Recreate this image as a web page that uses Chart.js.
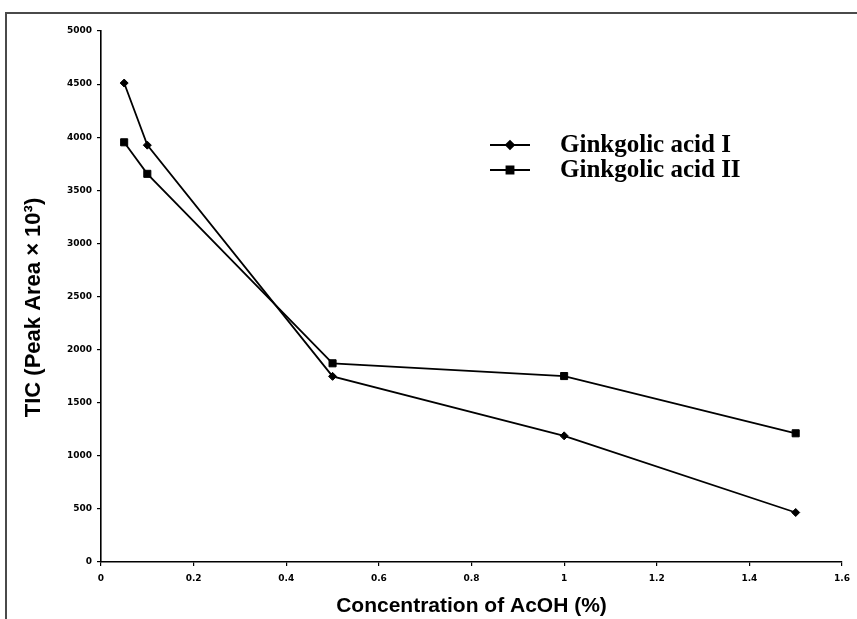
<!DOCTYPE html>
<html>
<head>
<meta charset="utf-8">
<script src="https://cdn.jsdelivr.net/npm/chart.js@4/dist/chart.umd.min.js"></script>
<style>
  html, body { margin: 0; padding: 0; background: #fff; }
  #wrap { width: 857px; height: 619px; position: relative; }
</style>
</head>
<body>
<div id="wrap"><canvas id="c" width="857" height="619"></canvas></div>
<script>
// ---- data ----
const concentrations = [0.05, 0.1, 0.5, 1.0, 1.5];
const ginkgolicAcidI = [4510, 3925, 1748, 1188, 466];
const ginkgolicAcidII = [3952, 3655, 1871, 1751, 1212];
const seriesNames = ['Ginkgolic acid I', 'Ginkgolic acid II'];
const xTickLabels = ['0', '0.2', '0.4', '0.6', '0.8', '1', '1.2', '1.4', '1.6'];
const yTickLabels = ['0', '500', '1000', '1500', '2000', '2500', '3000', '3500', '4000', '4500', '5000'];
const xAxisTitle = 'Concentration of AcOH (%)';
const yAxisTitle = 'TIC (Peak Area \u00d7 10\u00b3)';

const toPoints = (xs, ys) => xs.map((x, i) => ({ x: x, y: ys[i] }));

const framePlugin = {
  id: 'frame',
  beforeDraw(chart) {
    const ctx = chart.ctx;
    ctx.save();
    ctx.fillStyle = '#fff';
    ctx.fillRect(0, 0, chart.width, chart.height);
    ctx.strokeStyle = '#4a4a4a';
    ctx.lineWidth = 2;
    ctx.beginPath();
    ctx.moveTo(chart.width, 13);
    ctx.lineTo(6, 13);
    ctx.lineTo(6, chart.height);
    ctx.stroke();
    ctx.restore();
  }
};

const yTitlePlugin = {
  id: 'yTitle',
  afterDraw(chart) {
    const ctx = chart.ctx;
    const a = chart.chartArea;
    ctx.save();
    ctx.translate(34, (a.top + a.bottom) / 2 + 11);
    ctx.rotate(-Math.PI / 2);
    ctx.font = 'bold 22px "Liberation Sans", Arial, sans-serif';
    ctx.fillStyle = '#000';
    ctx.textAlign = 'center';
    ctx.textBaseline = 'middle';
    ctx.fillText(yAxisTitle, 0, 0);
    ctx.restore();
  }
};

const legendPlugin = {
  id: 'customLegend',
  afterDraw(chart) {
    const ctx = chart.ctx;
    const a = chart.chartArea;
    const lineX0 = a.left + 389, lineX1 = a.left + 429, textX = a.left + 459;
    chart.data.datasets.forEach((ds, i) => {
      const y = a.top + 114 + i * 25;
      ctx.save();
      ctx.strokeStyle = ds.borderColor;
      ctx.lineWidth = ds.borderWidth;
      ctx.beginPath();
      ctx.moveTo(lineX0, y);
      ctx.lineTo(lineX1, y);
      ctx.stroke();
      ctx.fillStyle = ds.pointBackgroundColor;
      ctx.strokeStyle = ds.borderColor;
      Chart.helpers.drawPoint(ctx, {
        pointStyle: ds.pointStyle,
        rotation: 0,
        radius: ds.pointRadius,
        borderWidth: 1
      }, (lineX0 + lineX1) / 2, y);
      ctx.font = 'bold 25px "Liberation Serif", "Times New Roman", serif';
      ctx.fillStyle = '#000';
      ctx.textAlign = 'left';
      ctx.textBaseline = 'middle';
      ctx.fillText(ds.label, textX, y + 1);
      ctx.restore();
    });
  }
};

const tickFont = { family: '"DejaVu Sans", Verdana, sans-serif', size: 9, weight: 'bold' };

new Chart(document.getElementById('c'), {
  type: 'line',
  data: {
    datasets: [
      {
        label: seriesNames[0],
        data: toPoints(concentrations, ginkgolicAcidI),
        borderColor: '#000',
        backgroundColor: '#000',
        pointBackgroundColor: '#000',
        pointBorderColor: '#000',
        borderWidth: 1.8,
        pointStyle: 'rectRot',
        pointRadius: 4,
        pointBorderWidth: 1,
        tension: 0,
        fill: false
      },
      {
        label: seriesNames[1],
        data: toPoints(concentrations, ginkgolicAcidII),
        borderColor: '#000',
        backgroundColor: '#000',
        pointBackgroundColor: '#000',
        pointBorderColor: '#000',
        borderWidth: 1.8,
        pointStyle: 'rect',
        pointRadius: 5,
        pointBorderWidth: 1,
        tension: 0,
        fill: false
      }
    ]
  },
  options: {
    responsive: false,
    animation: false,
    events: [],
    layout: { padding: { left: 0, right: 15, top: 31, bottom: 0 } },
    plugins: {
      legend: { display: false },
      tooltip: { enabled: false },
      title: { display: false }
    },
    scales: {
      x: {
        type: 'linear',
        min: 0,
        max: 1.6,
        ticks: {
          stepSize: 0.2,
          color: '#000',
          font: tickFont,
          padding: 7,
          maxRotation: 0,
          autoSkip: false,
          callback: (v, i) => xTickLabels[i]
        },
        grid: { drawOnChartArea: false, drawTicks: true, tickLength: 4, color: '#000', lineWidth: 1.2 },
        border: { display: true, color: '#000', width: 1.6 },
        title: {
          display: true,
          text: xAxisTitle,
          color: '#000',
          font: { family: '"Liberation Sans", Arial, sans-serif', size: 21, weight: 'bold' },
          padding: { top: 0, bottom: 0 }
        },
        afterFit: (scale) => { scale.height = 57; }
      },
      y: {
        type: 'linear',
        min: 0,
        max: 5000,
        ticks: {
          stepSize: 500,
          color: '#000',
          font: tickFont,
          padding: 5,
          autoSkip: false,
          callback: (v, i) => yTickLabels[i]
        },
        grid: { drawOnChartArea: false, drawTicks: true, tickLength: 4, color: '#000', lineWidth: 1.2 },
        border: { display: true, color: '#000', width: 1.6 },
        title: { display: false },
        afterFit: (scale) => { scale.width = 101; }
      }
    }
  },
  plugins: [framePlugin, yTitlePlugin, legendPlugin]
});
</script>
</body>
</html>
